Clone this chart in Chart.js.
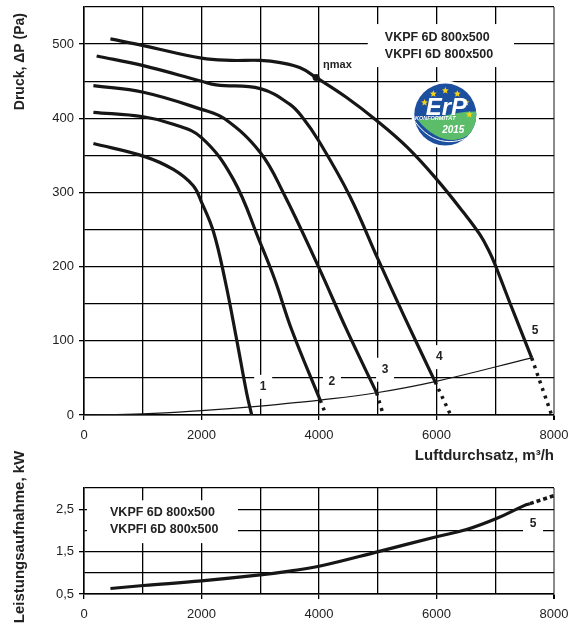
<!DOCTYPE html>
<html>
<head>
<meta charset="utf-8">
<script src="https://cdn.jsdelivr.net/npm/chart.js@4.4.1/dist/chart.umd.min.js"></script>
<style>
    html, body { margin: 0; padding: 0; background: #fff; }
    #wrap { position: relative; width: 579px; height: 626px; }
    #pressureChart { position: absolute; left: 0; top: 0; }
    #powerChart { position: absolute; left: 0; top: 440px; }
</style>
</head>
<body>
<div id="wrap">
    <canvas id="pressureChart" width="579" height="470"></canvas>
    <canvas id="powerChart" width="579" height="186"></canvas>
</div>
<script>
// Kennlinien, Luftdurchsatz in m³/h, Druck in Pa
const flow1 = [160, 1010, 1520, 1860, 2000, 2200, 2400, 2600, 2770, 2855];
const pressure1 = [366, 349, 331, 309, 287, 248, 182, 101, 29, 0];

const flow2 = [160, 1010, 1520, 2000, 2540, 3000, 3250, 3535, 4020];
const pressure2 = [408, 402, 392, 374, 318, 232, 182, 115, 20];
const flow2Tail = [4020, 4120];
const pressure2Tail = [20, 0];

const flow3 = [160, 1010, 2000, 2400, 3000, 3390, 3990, 4470, 4980];
const pressure3 = [444, 435, 412, 399, 354, 300, 200, 115, 30];
const flow3Tail = [4980, 5095];
const pressure3Tail = [30, 0];

const flow4 = [215, 1010, 2000, 2250, 3000, 3500, 3730, 4000, 4525, 5010, 5450, 5975];
const pressure4 = [484, 471, 450, 445, 440, 419, 400, 369, 295, 209, 133, 45];
const flow4Tail = [5975, 6240];
const pressure4Tail = [45, 0];

const flow5 = [450, 1010, 2000, 2500, 3000, 3340, 3680, 3950, 4470, 4980, 5500, 6000, 6450, 6740, 6900, 7000, 7250, 7620];
const pressure5 = [507, 498, 481, 478, 478, 475, 468, 455, 428, 397, 361, 318, 274, 243, 220, 202, 151, 77];
const flow5Tail = [7620, 7960];
const pressure5Tail = [77, 0];

const systemFlow = [0, 1000, 2000, 3000, 3506, 4020, 4980, 5975, 7620];
const systemPressure = [0, 1.5, 6, 12, 16, 20, 30, 45, 77];

const etaMaxFlow = [3950];
const etaMaxPressure = [455];

// Leistungsaufnahme in kW
const powerFlow = [450, 1010, 2000, 3000, 3500, 4020, 5010, 6000, 6510, 7020, 7500, 7590];
const powerKw = [0.63, 0.70, 0.81, 0.95, 1.04, 1.16, 1.50, 1.85, 2.02, 2.28, 2.59, 2.63];
const powerFlowTail = [7590, 8000];
const powerKwTail = [2.63, 2.82];

const flowTicks = [0, 2000, 4000, 6000, 8000];
const pressureTicks = [0, 100, 200, 300, 400, 500];
const powerTicks = [0.5, 1.5, 2.5];
const curveNames = ['1', '2', '3', '4', '5'];
const modelNames = ['VKPF 6D 800x500', 'VKPFI 6D 800x500'];

const FONT = '"Liberation Sans", Arial, sans-serif';
const INK = '#161616';
const GRID = '#000';

const pts = (xs, ys) => xs.map((x, i) => ({ x, y: ys[i] }));

function solid(xs, ys, width = 3.2) {
    return {
        data: pts(xs, ys),
        showLine: true,
        borderColor: INK,
        borderWidth: width,
        pointRadius: 0,
        tension: 0.4,
    };
}

function dotted(xs, ys, dash = [3, 5]) {
    return {
        data: pts(xs, ys),
        showLine: true,
        borderColor: INK,
        borderWidth: 3.5,
        borderDash: dash,
        borderCapStyle: 'butt',
        pointRadius: 0,
    };
}

// feste Achsenmaße, damit die Plotfläche wie im Original liegt
function pinScale(size) {
    return (scale) => {
        if (scale.isHorizontal()) {
            scale.height = size;
        } else {
            scale.width = size;
        }
        scale.paddingTop = 0;
        scale.paddingBottom = 0;
        scale.paddingLeft = 0;
        scale.paddingRight = 0;
    };
}

function flowAxis(height) {
    return {
        type: 'linear',
        min: 0,
        max: 8000,
        ticks: {
            stepSize: 1000,
            autoSkip: false,
            maxRotation: 0,
            padding: 8,
            color: '#222',
            font: { family: FONT, size: 13 },
            callback: (v) => (flowTicks.includes(v) ? String(v) : ''),
        },
        grid: {
            color: (c) => (c.tick && c.tick.value === 8000 ? '#8a8a8a' : GRID),
            lineWidth: (c) => (c.tick && c.tick.value === 8000 ? 2 : 1.3),
            tickLength: 5,
            tickColor: (c) => (c.tick && flowTicks.includes(c.tick.value) ? GRID : 'rgba(0,0,0,0)'),
        },
        border: { color: '#000', width: 1.5 },
        afterFit: pinScale(height),
    };
}

function valueAxis(min, max, step, labelled, format) {
    return {
        type: 'linear',
        min,
        max,
        ticks: {
            stepSize: step,
            autoSkip: false,
            padding: 5,
            color: '#222',
            font: { family: FONT, size: 13 },
            callback: (v) => (labelled.includes(v) ? format(v) : ''),
        },
        grid: {
            color: GRID,
            lineWidth: 1.3,
            tickLength: 5,
            tickColor: (c) => (c.tick && labelled.includes(c.tick.value) ? GRID : 'rgba(0,0,0,0)'),
        },
        border: { color: '#000', width: 1.5 },
        afterFit: pinScale(84),
    };
}

function drawYTitle(ctx, text, x, y, size, align) {
    ctx.save();
    ctx.translate(x, y);
    ctx.rotate(-Math.PI / 2);
    ctx.fillStyle = '#222';
    ctx.font = `bold ${size}px ${FONT}`;
    ctx.textAlign = align;
    ctx.textBaseline = 'middle';
    ctx.fillText(text, 0, 0);
    ctx.restore();
}

function drawStar(ctx, cx, cy, r) {
    ctx.beginPath();
    for (let i = 0; i < 10; i++) {
        const a = -Math.PI / 2 + i * Math.PI / 5;
        const rr = i % 2 === 0 ? r : r * 0.45;
        ctx.lineTo(cx + rr * Math.cos(a), cy + rr * Math.sin(a));
    }
    ctx.closePath();
    ctx.fill();
}

function drawErpLogo(ctx, cx, cy, r) {
    ctx.save();
    ctx.fillStyle = '#fff';
    ctx.beginPath();
    ctx.arc(cx, cy, r + 3, 0, Math.PI * 2);
    ctx.fill();
    ctx.beginPath();
    ctx.arc(cx, cy, r, 0, Math.PI * 2);
    ctx.fillStyle = '#1d4f9f';
    ctx.fill();

    ctx.save();
    ctx.clip();
    ctx.beginPath();
    ctx.moveTo(cx - 28, cy + 5);
    ctx.bezierCurveTo(cx - 10, cy + 6, cx + 8, cy - 4, cx + 33, cy - 3);
    ctx.lineTo(cx + 33, cy + 12);
    ctx.bezierCurveTo(cx + 18, cy + 30, cx - 6, cy + 32, cx - 28, cy + 5);
    ctx.fillStyle = '#5bbd6a';
    ctx.fill();
    ctx.beginPath();
    ctx.moveTo(cx - 31, cy + 6);
    ctx.bezierCurveTo(cx - 14, cy + 31, cx + 12, cy + 33, cx + 33, cy + 16);
    ctx.strokeStyle = '#fff';
    ctx.lineWidth = 1;
    ctx.stroke();
    ctx.restore();

    ctx.fillStyle = '#f6d316';
    [-150, -120, -90, -60, -30, 0].forEach((deg) => {
        const a = deg * Math.PI / 180;
        drawStar(ctx, cx + 24 * Math.cos(a), cy + 24 * Math.sin(a), 3.6);
    });

    ctx.fillStyle = '#fff';
    ctx.textAlign = 'center';
    ctx.textBaseline = 'alphabetic';
    ctx.font = `italic bold 24px ${FONT}`;
    ctx.fillText('ErP', cx + 1, cy);
    ctx.font = `italic bold 5.5px ${FONT}`;
    ctx.fillText('KONFORMITÄT', cx - 10, cy + 5.5);
    ctx.font = `italic bold 10px ${FONT}`;
    ctx.fillText('2015', cx + 8, cy + 18);
    ctx.restore();
}

const pressureNotes = {
    id: 'pressureNotes',
    beforeDatasetsDraw(chart) {
        const { ctx, scales: { x, y } } = chart;
        const px = (v) => x.getPixelForValue(v);
        const py = (p) => y.getPixelForValue(p);
        ctx.save();

        // Typenbox oben rechts
        ctx.fillStyle = '#fff';
        ctx.fillRect(px(4830), py(527), px(7320) - px(4830), py(469) - py(527));
        ctx.fillStyle = '#222';
        ctx.font = `bold 12.5px ${FONT}`;
        ctx.textAlign = 'left';
        ctx.textBaseline = 'middle';
        ctx.fillText(modelNames[0], px(5120), py(509));
        ctx.fillText(modelNames[1], px(5120), py(486));

        drawErpLogo(ctx, px(6150), py(405), 31);

        // Nummern der Kennlinien
        const spots = [[3050, 38, true], [4220, 45, true], [5125, 61, true], [6050, 78, true], [7680, 114, false]];
        ctx.font = `bold 12px ${FONT}`;
        ctx.textAlign = 'center';
        spots.forEach(([v, p, boxed], i) => {
            if (boxed) {
                ctx.fillStyle = '#fff';
                ctx.fillRect(px(v) - 9, py(p) - 12, 18, 24);
            }
            ctx.fillStyle = '#222';
            ctx.fillText(curveNames[i], px(v), py(p));
        });

        ctx.font = `bold 11px ${FONT}`;
        ctx.textAlign = 'left';
        ctx.fillText('ηmax', px(etaMaxFlow[0]) + 7, py(etaMaxPressure[0]) - 13);
        ctx.restore();
    },
    afterDraw(chart) {
        drawYTitle(chart.ctx, 'Druck, ΔP (Pa)', 20, 13, 14, 'right');
    },
};

const powerNotes = {
    id: 'powerNotes',
    beforeDatasetsDraw(chart) {
        const { ctx, scales: { x, y } } = chart;
        const px = (v) => x.getPixelForValue(v);
        const py = (p) => y.getPixelForValue(p);
        ctx.save();
        ctx.fillStyle = '#fff';
        ctx.fillRect(px(50), py(2.71), px(2620) - px(50), py(1.70) - py(2.71));
        ctx.fillStyle = '#222';
        ctx.font = `bold 12.5px ${FONT}`;
        ctx.textAlign = 'left';
        ctx.textBaseline = 'middle';
        ctx.fillText(modelNames[0], px(443), py(2.41));
        ctx.fillText(modelNames[1], px(443), py(2.01));

        ctx.fillStyle = '#fff';
        ctx.fillRect(px(7643) - 10, py(2.17) - 10, 20, 22);
        ctx.fillStyle = '#222';
        ctx.font = `bold 12px ${FONT}`;
        ctx.textAlign = 'center';
        ctx.fillText(curveNames[4], px(7643), py(2.17));
        ctx.restore();
    },
    afterDraw(chart) {
        drawYTitle(chart.ctx, 'Leistungsaufnahme, kW', 20, 97, 15, 'center');
    },
};

new Chart(document.getElementById('pressureChart'), {
    type: 'scatter',
    data: {
        datasets: [
            solid(flow1, pressure1),
            solid(flow2, pressure2),
            dotted(flow2Tail, pressure2Tail),
            solid(flow3, pressure3),
            dotted(flow3Tail, pressure3Tail),
            solid(flow4, pressure4),
            dotted(flow4Tail, pressure4Tail),
            solid(flow5, pressure5),
            dotted(flow5Tail, pressure5Tail),
            solid(systemFlow, systemPressure, 1.2),
            {
                data: pts(etaMaxFlow, etaMaxPressure),
                pointRadius: 3.5,
                pointBackgroundColor: INK,
                pointBorderWidth: 0,
            },
        ],
    },
    options: {
        responsive: false,
        animation: false,
        layout: { padding: { top: 7, right: 25, left: 0, bottom: 0 } },
        plugins: { legend: { display: false }, tooltip: { enabled: false } },
        scales: {
            x: {
                ...flowAxis(55),
                title: {
                    display: true,
                    text: 'Luftdurchsatz, m³/h',
                    align: 'end',
                    color: '#222',
                    font: { family: FONT, size: 15, weight: 'bold' },
                    padding: { top: 0, bottom: 5 },
                },
            },
            y: valueAxis(0, 550, 50, pressureTicks, (v) => String(v)),
        },
    },
    plugins: [pressureNotes],
});

new Chart(document.getElementById('powerChart'), {
    type: 'scatter',
    data: {
        datasets: [
            solid(powerFlow, powerKw),
            dotted(powerFlowTail, powerKwTail, [4, 3]),
        ],
    },
    options: {
        responsive: false,
        animation: false,
        layout: { padding: { top: 48, right: 25, left: 0, bottom: 0 } },
        plugins: { legend: { display: false }, tooltip: { enabled: false } },
        scales: {
            x: flowAxis(32),
            y: valueAxis(0.5, 3, 0.5, powerTicks, (v) => v.toFixed(1).replace('.', ',')),
        },
    },
    plugins: [powerNotes],
});
</script>
</body>
</html>
